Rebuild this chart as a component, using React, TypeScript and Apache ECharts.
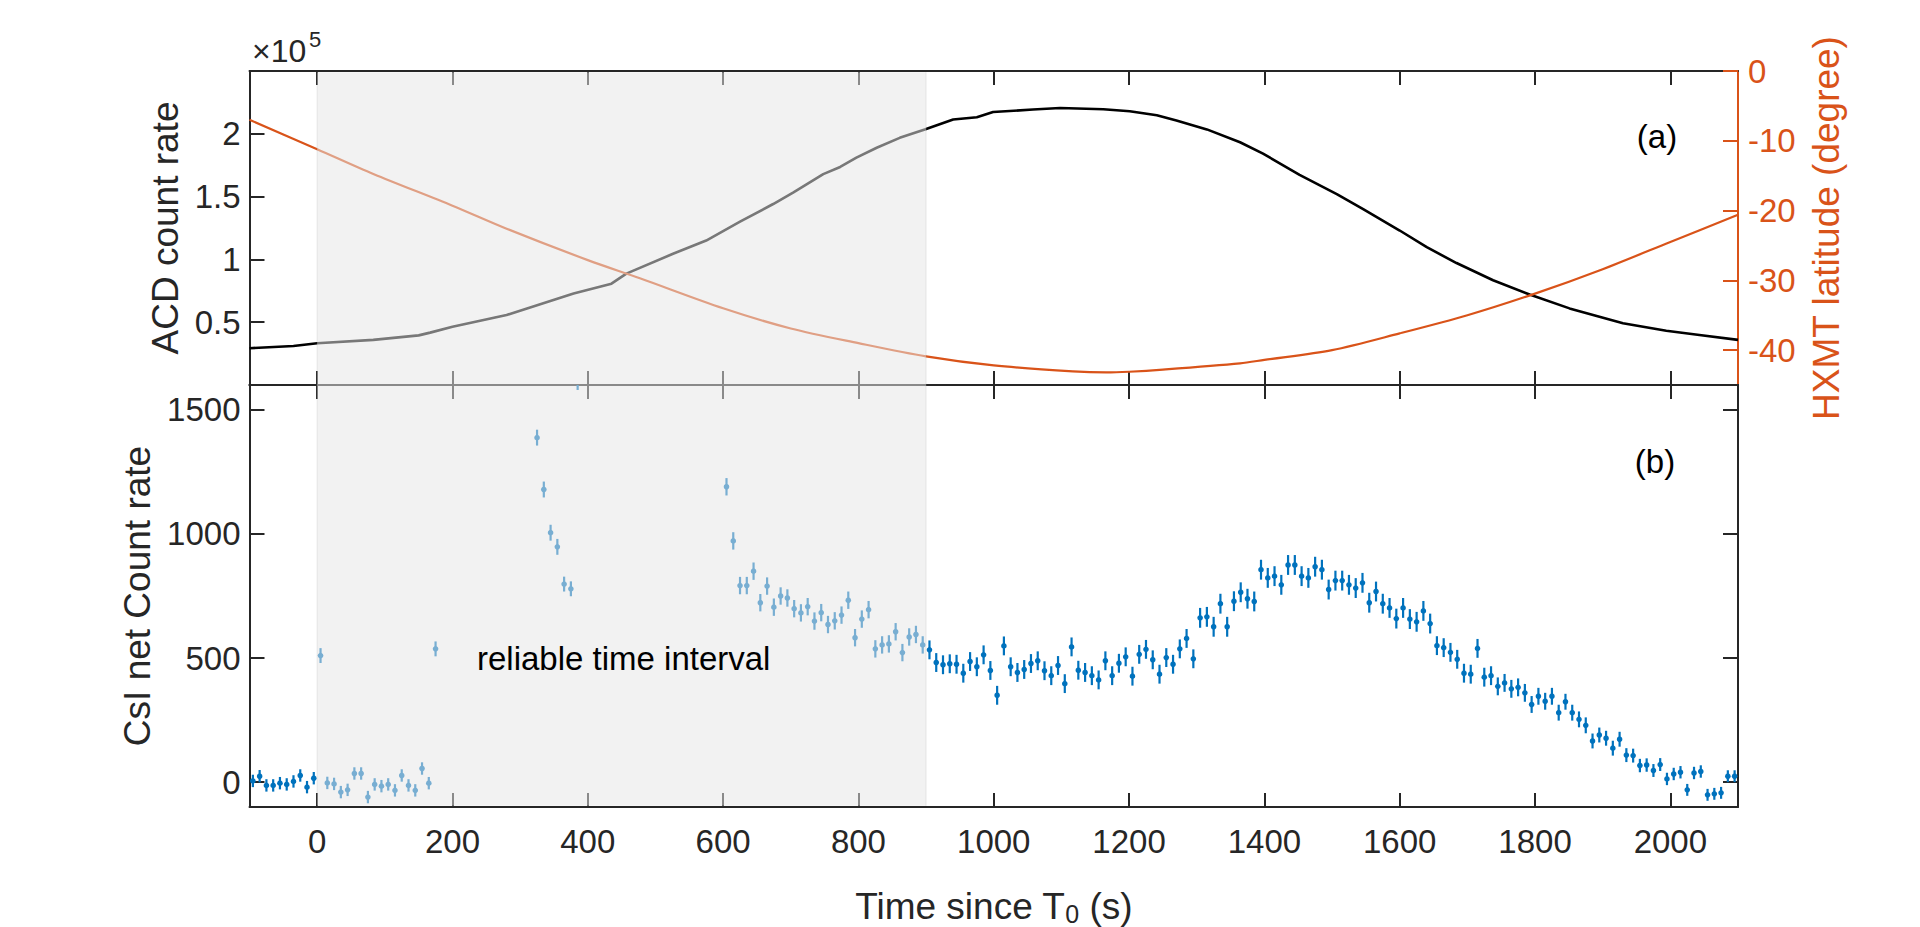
import React, { useEffect, useRef } from "react";
import * as echarts from "echarts";

const FONT = '"Liberation Sans", Arial, Helvetica, sans-serif';
const AXIS = "#262626";
const BLUE = "#0072BD";
const ORANGE = "#D95319";
const TICK_FONT = 33;
const NAME_FONT = 37;

// tick values
const timeTicks = [0, 200, 400, 600, 800, 1000, 1200, 1400, 1600, 1800, 2000];
const acdTicks = [50000, 100000, 150000, 200000];
const latTicks = [-40, -30, -20, -10, 0];
const csiTicks = [0, 500, 1000, 1500];

// shaded "reliable time interval" (s since T0)
const reliableInterval = [0, 900];

// ACD count rate [t, rate]
const acdRate = [
  [-100, 29300], [-35, 31100], [0, 33300], [83, 35900], [150, 39500], [167, 41700], [200, 46400],
  [280, 55700], [379, 72800], [435, 80700], [457, 88700], [526, 104500], [575, 115000],
  [625, 130000], [674, 144100], [704, 153300], [748, 167900], [773, 173600], [797, 181000],
  [827, 188900], [861, 196800], [898, 203500], [940, 211400], [975, 213200], [999, 217400],
  [1058, 219300], [1098, 220600], [1162, 219600], [1201, 218000], [1241, 214800],
  [1270, 210600], [1315, 203500], [1364, 193300], [1398, 184200], [1452, 167300],
  [1507, 152000], [1546, 140100], [1600, 123000], [1640, 109700], [1684, 97100],
  [1738, 83400], [1792, 72000], [1851, 61000], [1930, 49100], [1994, 43200],
  [2043, 39800], [2100, 35900],
];

// HXMT latitude [t, degree]
const latitude = [
  [-100, -7.0], [0, -11.2], [83, -14.75], [200, -19.3], [280, -22.6], [400, -27.1],
  [477, -29.7], [600, -34.0], [700, -36.9], [800, -39.0], [900, -40.9], [1000, -42.2],
  [1117, -43.05], [1166, -43.2], [1200, -43.1], [1250, -42.8], [1364, -41.9], [1400, -41.4],
  [1500, -40.0], [1600, -37.6], [1700, -35.0], [1800, -31.9], [1900, -28.4], [2000, -24.5],
  [2100, -20.6],
];

// CsI net count rate [t, rate, error]
const csiBeforeT0 = [
  [-95, 5, 25], [-85, 24, 25], [-75, -13, 25], [-65, -13, 25], [-55, -4, 25],
  [-45, -9, 25], [-35, 3, 25], [-25, 27, 25], [-15, -20, 25], [-5, 16, 25],
];

const csiReliable = [
  [5, 510, 30], [15, -3, 25], [25, -7, 25], [35, -40, 25], [45, -31, 25], [55, 35, 25],
  [65, 35, 25], [75, -60, 25], [85, -9, 25], [95, -16, 25], [105, -9, 25], [115, -33, 25],
  [125, 27, 25], [135, -13, 25], [145, -33, 25], [155, 55, 25], [165, -4, 25], [175, 537, 30],
  [325, 1388, 32], [335, 1179, 32], [345, 1005, 32], [355, 948, 32], [365, 798, 30],
  [375, 779, 30], [385, 1620, 40],
  [605, 1190, 35], [615, 972, 35], [625, 792, 35], [635, 792, 35], [645, 850, 35],
  [655, 723, 35], [665, 790, 35], [675, 705, 35], [685, 750, 35], [695, 742, 35],
  [705, 699, 35], [715, 682, 35], [725, 707, 35], [735, 649, 35], [745, 683, 35],
  [755, 635, 35], [765, 650, 35], [775, 673, 35], [785, 733, 35], [795, 582, 35],
  [805, 657, 35], [815, 695, 35], [825, 537, 35], [835, 553, 35], [845, 557, 35],
  [855, 606, 35], [865, 522, 35], [875, 585, 35], [885, 595, 35], [895, 553, 35],
];

const csiAfter = [
  [905, 533, 38], [915, 482, 38], [925, 473, 38], [935, 477, 38], [945, 475, 38],
  [955, 439, 38], [965, 486, 38], [975, 465, 38], [985, 513, 38], [995, 450, 38],
  [1005, 350, 38], [1015, 549, 38], [1025, 465, 38], [1035, 442, 38], [1045, 454, 38],
  [1055, 478, 38], [1065, 489, 38], [1075, 449, 38], [1085, 429, 38], [1095, 470, 38],
  [1105, 397, 38], [1115, 545, 38], [1125, 451, 38], [1135, 442, 38], [1145, 429, 38],
  [1155, 412, 38], [1165, 489, 38], [1175, 429, 38], [1185, 479, 38], [1195, 505, 38],
  [1205, 427, 38], [1215, 515, 38], [1225, 535, 38], [1235, 493, 38], [1245, 435, 38],
  [1255, 502, 38], [1265, 475, 38], [1275, 537, 38], [1285, 579, 38], [1295, 497, 38],
  [1305, 662, 40], [1315, 666, 40], [1325, 626, 40], [1335, 719, 40], [1345, 626, 40],
  [1355, 729, 40], [1365, 765, 40], [1375, 739, 40], [1385, 728, 40], [1395, 856, 40],
  [1405, 823, 40], [1415, 830, 40], [1425, 795, 40], [1435, 875, 40], [1445, 875, 40],
  [1455, 830, 40], [1465, 823, 40], [1475, 868, 40], [1485, 856, 40], [1495, 776, 40],
  [1505, 812, 40], [1515, 812, 40], [1525, 795, 40], [1535, 782, 40], [1545, 803, 40],
  [1555, 723, 40], [1565, 768, 40], [1575, 719, 40], [1585, 702, 40], [1595, 659, 40],
  [1605, 702, 40], [1615, 657, 40], [1625, 646, 40], [1635, 690, 40], [1645, 639, 40],
  [1655, 550, 38], [1665, 542, 38], [1675, 523, 38], [1685, 495, 38], [1695, 439, 38],
  [1705, 435, 38], [1715, 539, 38], [1725, 423, 38], [1735, 429, 38], [1745, 386, 36],
  [1755, 400, 36], [1765, 376, 36], [1775, 382, 36], [1785, 360, 36], [1795, 313, 34],
  [1805, 346, 34], [1815, 326, 34], [1825, 346, 34], [1835, 280, 32], [1845, 324, 32],
  [1855, 280, 32], [1865, 253, 32], [1875, 229, 32], [1885, 166, 30], [1895, 190, 30],
  [1905, 177, 30], [1915, 137, 30], [1925, 173, 30], [1935, 109, 28], [1945, 107, 28],
  [1955, 67, 27], [1965, 69, 27], [1975, 47, 26], [1985, 71, 26], [1995, 13, 25],
  [2005, 33, 25], [2015, 40, 25], [2025, -31, 24], [2035, 37, 25], [2045, 43, 25],
  [2055, -51, 24], [2065, -47, 24], [2075, -43, 24], [2085, 24, 24], [2095, 24, 24],
];

const GRID_LEFT = 249.5;
const GRID_WIDTH = 1488.5;

const plain = (v: number) => String(v);

function xAxisDef(gridIndex: number, position: string, labels: boolean) {
  const ax: any = {
    type: "value",
    gridIndex,
    position,
    min: -100,
    max: 2100,
    axisLine: { show: true, onZero: false, lineStyle: { color: AXIS, width: 2 } },
    axisTick: { show: true, inside: true, length: 14, customValues: timeTicks, lineStyle: { color: AXIS, width: 2 } },
    axisLabel: {
      show: labels,
      customValues: timeTicks,
      color: AXIS,
      fontSize: TICK_FONT,
      fontFamily: FONT,
      margin: 18,
      formatter: plain,
    },
    splitLine: { show: false },
  };
  if (labels) {
    ax.name = "Time since T{sub|0} (s)";
    ax.nameLocation = "middle";
    ax.nameGap = 79;
    ax.nameTextStyle = {
      color: AXIS,
      fontSize: NAME_FONT,
      fontFamily: FONT,
      lineHeight: 40,
      rich: {
        sub: { fontSize: 25, fontFamily: FONT, color: AXIS, lineHeight: 25, padding: [20, 0, 0, 0], verticalAlign: "bottom" },
      },
    };
  }
  return ax;
}

export default function App() {
  const ref = useRef<HTMLDivElement>(null);

  useEffect(() => {
    document.body.style.margin = "0";
    if (!ref.current) return;
    const chart = echarts.init(ref.current, undefined, { renderer: "svg" });

    const shadeRender = (insetTop: number, insetBottom: number) => (params: any, api: any) => {
      const cs = params.coordSys;
      const x0 = api.coord([api.value(0), api.value(2)])[0];
      const x1 = api.coord([api.value(1), api.value(2)])[0];
      const y0 = cs.y + insetTop;
      const y1 = cs.y + cs.height - insetBottom;
      return {
        type: "group",
        children: [
          {
            type: "rect",
            shape: { x: x0, y: y0, width: x1 - x0, height: y1 - y0 },
            style: { fill: "rgba(230,230,230,0.52)" },
          },
          { type: "line", shape: { x1: x0, y1: y0, x2: x0, y2: y1 }, style: { stroke: "rgba(150,150,150,0.12)", lineWidth: 1.5 } },
          { type: "line", shape: { x1: x1, y1: y0, x2: x1, y2: y1 }, style: { stroke: "rgba(150,150,150,0.12)", lineWidth: 1.5 } },
        ],
      };
    };

    const errRender = (params: any, api: any) => {
      const t = api.value(0);
      const v = api.value(1);
      const e = api.value(2);
      const c = api.coord([t, v]);
      const hi = api.coord([t, v + e]);
      const lo = api.coord([t, v - e]);
      return {
        type: "group",
        children: [
          { type: "line", shape: { x1: c[0], y1: hi[1], x2: c[0], y2: lo[1] }, style: { stroke: BLUE, lineWidth: 2.2 } },
          { type: "circle", shape: { cx: c[0], cy: c[1], r: 2.8 }, style: { fill: BLUE } },
        ],
      };
    };

    const csiAll = [...csiBeforeT0, ...csiReliable, ...csiAfter];

    const option: any = {
      animation: false,
      backgroundColor: "#ffffff",
      grid: [
        { left: GRID_LEFT, top: 71, width: GRID_WIDTH, height: 314 },
        { left: GRID_LEFT, top: 385, width: GRID_WIDTH, height: 425 },
      ],
      xAxis: [
        xAxisDef(0, "bottom", false),
        xAxisDef(0, "top", false),
        xAxisDef(1, "bottom", true),
        xAxisDef(1, "top", false),
      ],
      yAxis: [
        {
          type: "value",
          gridIndex: 0,
          position: "left",
          min: 0,
          max: 250000,
          axisLine: { show: true, onZero: false, lineStyle: { color: AXIS, width: 2 } },
          axisTick: { show: true, inside: true, length: 15, customValues: acdTicks, lineStyle: { color: AXIS, width: 2 } },
          axisLabel: {
            customValues: acdTicks,
            color: AXIS,
            fontSize: TICK_FONT,
            fontFamily: FONT,
            margin: 9,
            formatter: (v: number) => String(v / 100000),
          },
          splitLine: { show: false },
          name: "ACD count rate",
          nameLocation: "middle",
          nameGap: 61,
          nameTextStyle: { color: AXIS, fontSize: NAME_FONT, fontFamily: FONT },
        },
        {
          type: "value",
          gridIndex: 0,
          position: "right",
          min: -45,
          max: 0,
          axisLine: { show: true, onZero: false, lineStyle: { color: ORANGE, width: 2 } },
          axisTick: { show: true, inside: true, length: 15, customValues: latTicks, lineStyle: { color: ORANGE, width: 2 } },
          axisLabel: { customValues: latTicks, color: ORANGE, fontSize: TICK_FONT, fontFamily: FONT, margin: 10, formatter: plain },
          splitLine: { show: false },
          name: "HXMT latitude (degree)",
          nameLocation: "middle",
          nameGap: 70,
          nameTextStyle: { color: ORANGE, fontSize: NAME_FONT, fontFamily: FONT },
        },
        {
          type: "value",
          gridIndex: 1,
          position: "left",
          min: -100,
          max: 1600,
          axisLine: { show: true, onZero: false, lineStyle: { color: AXIS, width: 2 } },
          axisTick: { show: true, inside: true, length: 15, customValues: csiTicks, lineStyle: { color: AXIS, width: 2 } },
          axisLabel: { customValues: csiTicks, color: AXIS, fontSize: TICK_FONT, fontFamily: FONT, margin: 9, formatter: plain },
          splitLine: { show: false },
          name: "CsI net Count rate",
          nameLocation: "middle",
          nameGap: 77,
          nameTextStyle: { color: AXIS, fontSize: NAME_FONT, fontFamily: FONT },
        },
        {
          type: "value",
          gridIndex: 1,
          position: "right",
          min: -100,
          max: 1600,
          axisLine: { show: true, onZero: false, lineStyle: { color: AXIS, width: 2 } },
          axisTick: { show: true, inside: true, length: 15, customValues: csiTicks, lineStyle: { color: AXIS, width: 2 } },
          axisLabel: { show: false },
          splitLine: { show: false },
        },
      ],
      series: [
        {
          type: "line",
          xAxisIndex: 0,
          yAxisIndex: 0,
          data: acdRate,
          showSymbol: false,
          symbol: "none",
          lineStyle: { color: "#000000", width: 2.6 },
          z: 3,
        },
        {
          type: "line",
          xAxisIndex: 0,
          yAxisIndex: 1,
          data: latitude,
          showSymbol: false,
          symbol: "none",
          smooth: 0.3,
          lineStyle: { color: ORANGE, width: 2.2 },
          z: 3,
        },
        {
          type: "custom",
          xAxisIndex: 2,
          yAxisIndex: 2,
          data: csiAll,
          encode: { x: 0, y: 1 },
          renderItem: errRender,
          clip: true,
          z: 3,
        },
        {
          type: "custom",
          xAxisIndex: 0,
          yAxisIndex: 0,
          data: [[reliableInterval[0], reliableInterval[1], 100000]],
          encode: { x: [0, 1], y: 2 },
          renderItem: shadeRender(1.2, 0),
          silent: true,
          z: 20,
        },
        {
          type: "custom",
          xAxisIndex: 2,
          yAxisIndex: 2,
          data: [[reliableInterval[0], reliableInterval[1], 500]],
          encode: { x: [0, 1], y: 2 },
          renderItem: shadeRender(0, 1.2),
          silent: true,
          z: 20,
        },
      ],
      graphic: [
        {
          type: "text",
          x: 1657,
          y: 136,
          z: 100,
          style: { text: "(a)", fill: "#000000", fontSize: TICK_FONT, fontFamily: FONT, align: "center", verticalAlign: "middle" },
        },
        {
          type: "text",
          x: 1655,
          y: 461,
          z: 100,
          style: { text: "(b)", fill: "#000000", fontSize: TICK_FONT, fontFamily: FONT, align: "center", verticalAlign: "middle" },
        },
        {
          type: "text",
          x: 477,
          y: 658,
          z: 100,
          style: { text: "reliable time interval", fill: "#000000", fontSize: TICK_FONT, fontFamily: FONT, align: "left", verticalAlign: "middle" },
        },
        {
          type: "text",
          x: 252,
          y: 51,
          z: 100,
          style: { text: "×10", fill: AXIS, fontSize: 32, fontFamily: FONT, align: "left", verticalAlign: "middle" },
        },
        {
          type: "text",
          x: 309,
          y: 39,
          z: 100,
          style: { text: "5", fill: AXIS, fontSize: 22, fontFamily: FONT, align: "left", verticalAlign: "middle" },
        },
      ],
    };

    chart.setOption(option);
    return () => {
      chart.dispose();
    };
  }, []);

  return <div ref={ref} style={{ width: "1920px", height: "927px" }} />;
}
